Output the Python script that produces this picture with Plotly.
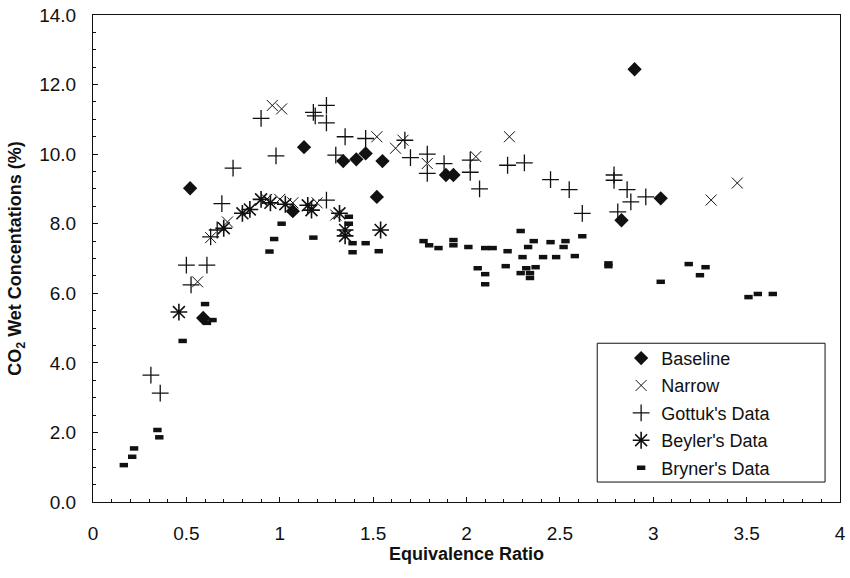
import plotly.graph_objects as go

# ---- data ----
baseline_x = [0.52, 0.59, 1.07, 1.13, 1.34, 1.41, 1.46, 1.52, 1.55, 1.89, 1.93, 2.83, 2.90, 3.04]
baseline_y = [9.02, 5.29, 8.36, 10.2, 9.8, 9.85, 10.02, 8.77, 9.8, 9.4, 9.4, 8.1, 12.44, 8.73]

narrow_x = [0.56, 0.63, 0.72, 0.93, 0.96, 1.00, 1.01, 1.07, 1.20, 1.30, 1.52, 1.62, 1.66, 1.79, 2.05, 2.23, 3.31, 3.45]
narrow_y = [6.33, 7.6, 8.05, 8.7, 11.4, 8.7, 11.3, 8.6, 8.6, 8.25, 10.5, 10.17, 10.4, 9.73, 9.93, 10.5, 8.68, 9.17]

gottuk_x = [0.31, 0.36, 0.50, 0.525, 0.61, 0.63, 0.665, 0.69, 0.75, 0.90, 0.98, 1.18, 1.19, 1.25, 1.25,
            1.25, 1.30, 1.35, 1.46, 1.67, 1.70, 1.79, 1.79, 1.88, 2.02, 2.02, 2.07, 2.22, 2.31, 2.45,
            2.55, 2.62, 2.79, 2.79, 2.81, 2.86, 2.88, 2.96]
gottuk_y = [3.65, 3.13, 6.81, 6.24, 6.81, 7.62, 7.82, 8.58, 9.6, 11.03, 9.95, 11.2, 11.1, 11.4, 10.9,
            8.68, 9.97, 10.5, 10.45, 10.4, 9.9, 10.0, 9.45, 9.73, 9.83, 9.48, 9.0, 9.68, 9.75, 9.27,
            8.98, 8.3, 9.4, 9.25, 8.34, 8.98, 8.63, 8.77]

beyler_x = [0.46, 0.70, 0.80, 0.84, 0.90, 0.95, 1.03, 1.15, 1.17, 1.32, 1.35, 1.35, 1.54]
beyler_y = [5.46, 7.87, 8.3, 8.41, 8.7, 8.6, 8.56, 8.53, 8.39, 8.3, 7.82, 7.65, 7.82]

bryner_x = [0.165, 0.21, 0.22, 0.345, 0.355, 0.48, 0.60, 0.61, 0.64, 0.945, 0.97, 1.01, 1.18,
            1.37, 1.37, 1.39, 1.39, 1.46, 1.53, 1.77, 1.80, 1.85, 1.93, 1.93, 2.01, 2.06, 2.10,
            2.10, 2.10, 2.14, 2.21, 2.22, 2.29, 2.29, 2.30, 2.32, 2.33, 2.34, 2.34, 2.36, 2.37,
            2.41, 2.45, 2.48, 2.52, 2.53, 2.58, 2.62, 2.76, 2.76, 3.04, 3.19, 3.25, 3.28, 3.51,
            3.56, 3.64]
bryner_y = [1.06, 1.3, 1.54, 2.07, 1.86, 4.63, 5.69, 5.15, 5.23, 7.2, 7.56, 8.0, 7.6,
            8.2, 8.0, 7.44, 7.18, 7.44, 7.21, 7.5, 7.38, 7.3, 7.53, 7.38, 7.33, 6.72, 6.55,
            6.26, 7.3, 7.3, 6.78, 7.21, 7.79, 6.58, 7.04, 6.72, 7.33, 6.58, 6.44, 7.5, 6.75,
            7.04, 7.47, 7.04, 7.33, 7.5, 7.07, 7.64, 6.78, 6.86, 6.33, 6.84, 6.52, 6.75, 5.89,
            5.98, 5.98]

x_ticks = [0, 0.5, 1, 1.5, 2, 2.5, 3, 3.5, 4]
y_ticks = [0, 2, 4, 6, 8, 10, 12, 14]

FONT = "Liberation Sans, Arial, Helvetica, sans-serif"
BLACK = "#111111"

fig = go.Figure()

fig.add_trace(go.Scatter(
    x=baseline_x, y=baseline_y, mode="markers", name="Baseline", legendgroup="a",
    marker=dict(symbol="diamond", size=11, color=BLACK, line=dict(width=0))))
fig.add_trace(go.Scatter(
    x=narrow_x, y=narrow_y, mode="markers", name="Narrow", legendgroup="b",
    marker=dict(symbol="x-thin-open", size=11, color=BLACK, line=dict(width=1, color=BLACK))))
fig.add_trace(go.Scatter(
    x=gottuk_x, y=gottuk_y, mode="markers", name="Gottuk's Data", legendgroup="c",
    marker=dict(symbol="cross-thin-open", size=12, color=BLACK, line=dict(width=1.3, color=BLACK))))
fig.add_trace(go.Scatter(
    x=beyler_x, y=beyler_y, mode="markers", name="Beyler's Data", legendgroup="d",
    marker=dict(symbol="asterisk-open", size=14, color=BLACK, line=dict(width=1.6, color=BLACK))))
fig.add_trace(go.Scatter(
    x=bryner_x, y=bryner_y, mode="markers", name="Bryner's Data", legendgroup="e",
    marker=dict(symbol="line-ew-open", size=6, color=BLACK, line=dict(width=4.5, color=BLACK))))

# legend frame
fig.add_shape(type="rect", xref="paper", yref="paper", x0=0.675, x1=0.980, y0=0.041, y1=0.326,
              line=dict(color=BLACK, width=1), fillcolor="rgba(0,0,0,0)", layer="below")

axis_common = dict(
    showline=True, linecolor=BLACK, linewidth=1, mirror=True,
    showgrid=False, zeroline=False,
    ticks="inside", ticklen=5, tickcolor=BLACK, tickwidth=1,
    tickfont=dict(family=FONT, size=19, color=BLACK),
    ticklabeloverflow="allow",
)

fig.update_layout(
    width=850, height=578,
    margin=dict(l=93, r=4, t=15, b=76),
    paper_bgcolor="white", plot_bgcolor="white",
    font=dict(family=FONT, color=BLACK),
    xaxis=dict(range=[0, 4], tickvals=x_ticks, ticktext=[f"{v:g}" for v in x_ticks],
               minor=dict(dtick=0.1, ticks="inside", ticklen=3, tickcolor=BLACK),
               ticklabelstandoff=14,
               title=dict(text="<b>Equivalence Ratio</b>", standoff=4,
                          font=dict(family=FONT, size=18, color=BLACK)),
               **axis_common),
    yaxis=dict(range=[0, 14], tickvals=y_ticks, ticktext=[f"{v:.1f}" for v in y_ticks],
               minor=dict(dtick=0.5, ticks="inside", ticklen=3, tickcolor=BLACK),
               ticklabelstandoff=12,
               title=dict(text="<b>CO<sub>2</sub> Wet Concentations (%)</b>", standoff=12,
                          font=dict(family=FONT, size=18, color=BLACK)),
               **axis_common),
    legend=dict(x=0.707, y=0.333, xanchor="left", yanchor="top",
                bgcolor="rgba(0,0,0,0)", borderwidth=0,
                font=dict(family=FONT, size=18, color=BLACK),
                tracegroupgap=1, itemwidth=30),
    showlegend=True,
)

fig.write_html("out.html")
